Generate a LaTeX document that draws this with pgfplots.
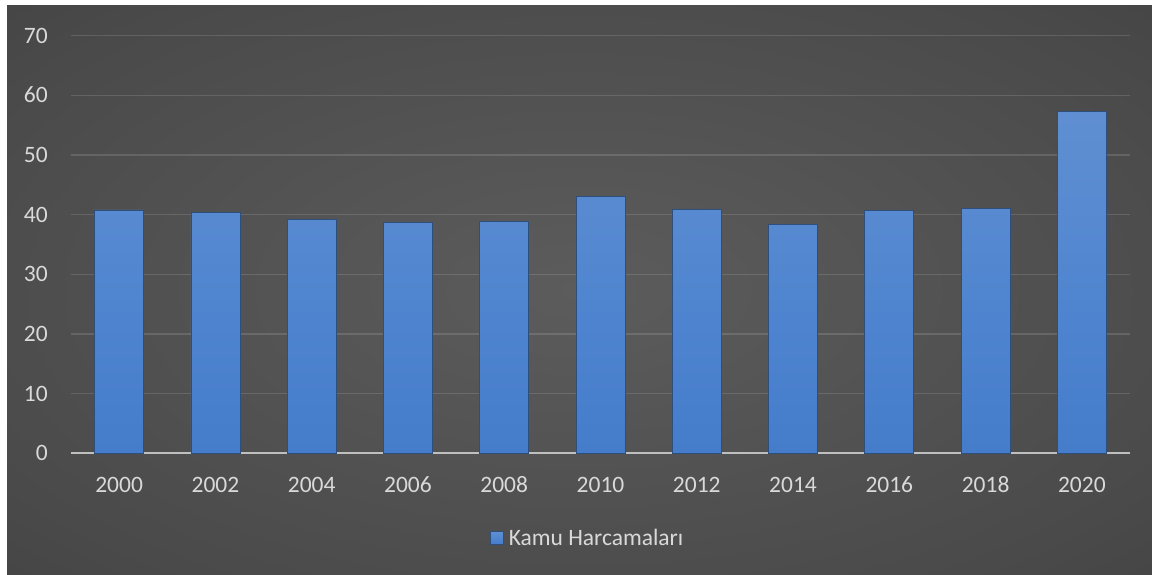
\documentclass[border=0pt]{standalone}
\usepackage{fontspec}
\setmainfont{Carlito}
\usepackage{pgfplots}
\pgfplotsset{compat=1.18}
\usepackage{pgfplotstable}

\definecolor{bgin}{HTML}{5C5C5C}
\definecolor{bgmid}{HTML}{4A4A4A}
\definecolor{bgout}{HTML}{2A2A2A}
\definecolor{barbot}{HTML}{3B74C6}
\definecolor{barmid}{HTML}{4E84CF}
\definecolor{bartop}{HTML}{6C97D4}
\definecolor{barbev}{HTML}{9DBDEA}
\definecolor{barbev2}{HTML}{B3CDEF}
\definecolor{barline}{HTML}{2E4E7E}
\definecolor{tickgray}{HTML}{D9D9D9}
\definecolor{axisgray}{HTML}{BFBFBF}

\pgfdeclareradialshading{bgshade}{\pgfpoint{0bp}{0bp}}{color(0bp)=(bgin); color(30bp)=(bgmid); color(71bp)=(bgout)}
\pgfdeclareverticalshading{barshade}{100bp}{color(0bp)=(barbot); color(45bp)=(barmid); color(96.5bp)=(bartop); color(97bp)=(barbev); color(100bp)=(barbev2)}

\pgfplotstableread{
x y
0 40.8
1 40.4
2 39.2
3 38.7
4 38.8
5 43.1
6 40.9
7 38.4
8 40.7
9 41.1
10 57.3
}\data

\begin{document}
\begin{tikzpicture}
\useasboundingbox (0,0) rectangle (1152pt,574pt);
\fill[white] (0,0) rectangle (1152pt,574pt);
\shade[shading=bgshade] (7pt,0) rectangle (1152pt,568pt);
\begin{axis}[
  at={(71pt,120.7pt)}, anchor=south west,
  scale only axis, width=1059pt, height=417.6pt,
  xmin=-0.5, xmax=10.5, ymin=0, ymax=70,
  ytick={0,10,...,70},
  xtick=data,
  xticklabels={2000,2002,2004,2006,2008,2010,2012,2014,2016,2018,2020},
  /pgf/number format/assume math mode=true,
  major tick length=0pt,
  tick style={draw=none},
  axis x line*=bottom, axis y line*=left,
  x axis line style={draw=axisgray, line width=2pt, -},
  y axis line style={draw=none},
  ymajorgrids,
  grid style={draw=white, opacity=0.13, line width=1.5pt},
  ticklabel style={font=\fontsize{23.5}{28}\selectfont, text=tickgray, inner sep=0pt},
  yticklabel style={anchor=base east, xshift=-23pt, yshift=-7.4pt},
  xticklabel style={anchor=base, yshift=-39pt},
  legend style={at={(0.488,-0.203)}, anchor=center, draw=none, fill=none,
    text=tickgray, font=\fontsize{23.5}{28}\selectfont, inner sep=0pt, column sep=3pt},
  legend image code/.code={\shade[shading=barshade, draw=barline, line width=0.5pt] (0pt,-6.5pt) rectangle (13pt,6.5pt);},
]
\addplot[ybar, bar width=49pt, shade, shading=barshade, draw=barline, line width=0.8pt] table[x=x,y=y] {\data};
\addlegendentry{Kamu Harcamaları}
\end{axis}
\end{tikzpicture}
\end{document}
